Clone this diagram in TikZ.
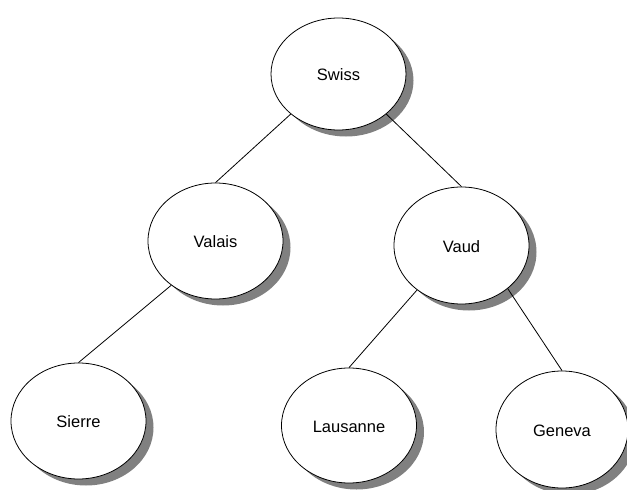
\documentclass[tikz,border=0pt]{standalone}
\usepackage{fontspec}
\setmainfont{Liberation Sans}
\usetikzlibrary{shapes.geometric,shadows}
\tikzset{
  place/.style={ellipse, draw=black, line width=0.8pt, fill=white,
    inner sep=0pt, minimum width=135pt, minimum height=115pt,
    font=\fontsize{16.5}{19}\selectfont, text height=17pt, text depth=4pt,
    drop shadow={shadow xshift=7.5pt, shadow yshift=-6.5pt, fill=black!50, opacity=1}},
  link/.style={draw=black, line width=0.8pt}
}
\begin{document}
\begin{tikzpicture}[x=1pt,y=-1pt]
  \useasboundingbox (0,0) rectangle (627,490);
  % tree of regions and towns
  \node[place, minimum height=112pt] (swiss)    at (338.5,74)  {Swiss};
  \node[place, minimum height=116pt] (valais)   at (215.5,241) {Valais};
  \node[place, minimum height=117pt] (vaud)     at (461.5,245.5) {Vaud};
  \node[place, minimum height=116pt] (sierre)   at (78.5,421)  {Sierre};
  \node[place]                       (lausanne) at (349,425.5) {Lausanne};
  \node[place, minimum width=132pt, minimum height=117pt] (geneva) at (562,429.5) {Geneva};
  % branches
  \draw[link] (swiss.220)  -- (valais.north);
  \draw[link] (swiss.320)  -- (vaud.north);
  \draw[link] (valais.225) -- (sierre.north);
  \draw[link] (vaud.225)   -- (lausanne.north);
  \draw[link] (vaud.317)   -- (geneva.north);
\end{tikzpicture}
\end{document}
